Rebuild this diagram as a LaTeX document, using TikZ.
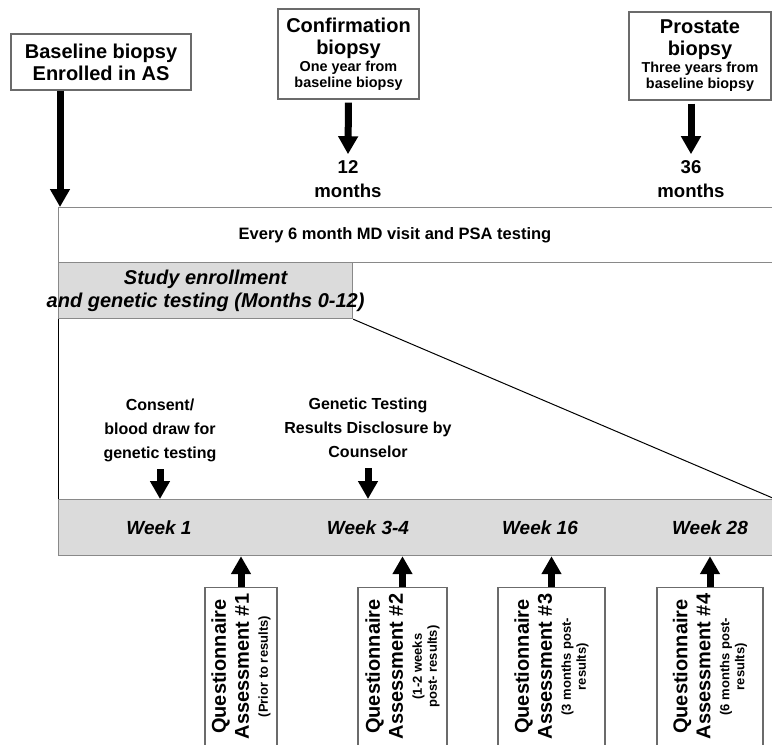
\documentclass[tikz,border=0pt]{standalone}
\usepackage{fontspec}
\setmainfont{Liberation Sans}
\usetikzlibrary{arrows.meta,positioning}
\definecolor{bandgray}{gray}{0.86}
\definecolor{edgegray}{gray}{0.42}
\newcommand{\subtxt}{\fontsize{14.4}{17}\selectfont}
\newcommand{\qsmall}{\fontsize{13}{15}\selectfont}

\begin{document}
\begin{tikzpicture}[x=1pt,y=-1pt]
\useasboundingbox (0,0) rectangle (772,745);
\clip (0,0) rectangle (772,745);
\tikzstyle{block} = [draw=edgegray,line width=1.2pt,fill=white,align=center,font=\bfseries\fontsize{20}{22}\selectfont,inner sep=2pt]
\tikzstyle{band} = [draw=edgegray!80,line width=1.2pt,rectangle,anchor=north west,inner sep=0pt]
\tikzstyle{fatarrow} = [line width=7pt,-{Triangle[width=19pt,length=18pt]}]
\tikzstyle{txt} = [align=center,font=\bfseries\fontsize{16}{24}\selectfont]
\tikzstyle{months} = [align=center,inner sep=6pt,font=\bfseries\fontsize{18.6}{24}\selectfont]
\tikzstyle{wk} = [font=\bfseries\itshape\fontsize{19}{22}\selectfont]
\tikzstyle{qbox} = [draw=edgegray,line width=1.2pt,rotate=90,anchor=east,minimum width=158,align=center,font=\bfseries\fontsize{20}{23}\selectfont]
% biopsies on top
\node[block,minimum width=180,minimum height=56] (base) at (101,62) {Baseline biopsy\\Enrolled in AS};
\node[block,minimum width=141,minimum height=90] (conf) at (348.5,54) {Confirmation\\biopsy\\[-5pt]{\subtxt One year from}\\[-6pt]{\subtxt baseline biopsy}};
\node[block,minimum width=142,minimum height=88] (pros) at (700,56) {Prostate\\biopsy\\[-5pt]{\subtxt Three years from}\\[-6pt]{\subtxt baseline biopsy}};
\node[months] (m12) at (348,179) {12\\months};
\node[months] (m36) at (691,179) {36\\months};
\draw[fatarrow,shorten <=3pt] (conf.south) -- (m12.north);
\draw[fatarrow,shorten <=3pt] (pros.south -| m36) -- (m36.north);
% MD visits and study period
\node[band,minimum width=730,minimum height=55] (md) at (58,207) {};
\node[font=\bfseries\fontsize{16.5}{20}\selectfont] (mdtxt) at (395,235) {Every 6 month MD visit and PSA testing};
\coordinate (btip) at (60,207);
\draw[fatarrow] (base.south -| btip) -- (btip);
\node[band,fill=bandgray,minimum width=294,minimum height=56] (study) at (58,262) {};
\node[align=center,font=\bfseries\itshape\fontsize{20}{23}\selectfont] (studytxt) at (study.center) {Study enrollment\\and genetic testing (Months 0-12)};
\node[band,fill=bandgray,minimum width=730,minimum height=56] (weeks) at (58,499) {};
\coordinate (dend) at (775,499);
\draw[line width=1pt] (study.south west) -- (weeks.north west);
\draw[line width=1pt] (study.south east) -- (dend);
%\draw (study.south east) -- (weeks.north east);
\node[wk] (w1) at (159,528) {Week 1};
\node[wk] (w2) at (368,528) {Week 3-4};
\node[wk] (w3) at (540,528) {Week 16};
\node[wk] (w4) at (710,528) {Week 28};
% events above the weeks
\node[txt] (cons) at (160,430) {Consent/\\blood draw for\\genetic testing};
\node[txt] (gen) at (368,428) {Genetic Testing\\Results Disclosure by\\Counselor};
\draw[fatarrow,shorten <=4pt] (cons.south) -- (cons.south |- weeks.north);
\draw[fatarrow,shorten <=7pt] (gen.south) -- (gen.south |- weeks.north);
% questionnaires
\node[qbox,minimum height=72] (q1) at (241,587) {Questionnaire\\Assessment \#1\\[-4pt]{\qsmall (Prior to results)}};
\node[qbox,minimum height=89] (q2) at (402.5,587) {Questionnaire\\Assessment \#2\\[-4pt]{\qsmall (1-2 weeks}\\[-8pt]{\qsmall post- results)}};
\node[qbox,minimum height=107] (q3) at (551.5,587) {Questionnaire\\Assessment \#3\\[-4pt]{\qsmall (3 months post-}\\[-8pt]{\qsmall results)}};
\node[qbox,minimum height=106] (q4) at (710,587) {Questionnaire\\Assessment \#4\\[-4pt]{\qsmall (6 months post-}\\[-8pt]{\qsmall results)}};
\draw[fatarrow] (q1.east) -- (q1.east |- weeks.south);
\draw[fatarrow] (q2.east) -- (q2.east |- weeks.south);
\draw[fatarrow] (q3.east) -- (q3.east |- weeks.south);
\draw[fatarrow] (q4.east) -- (q4.east |- weeks.south);
\end{tikzpicture}
\end{document}
